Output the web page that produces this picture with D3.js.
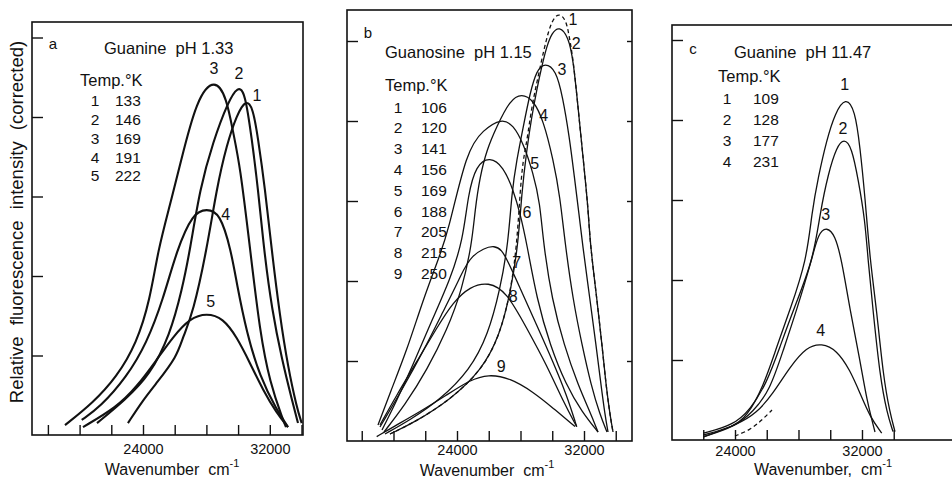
<!DOCTYPE html>
<html><head>
<meta charset="utf-8">
<title>Fluorescence spectra of guanine and guanosine</title>
<script src="https://d3js.org/d3.v7.min.js"></script>
<style>
  body { margin: 0; background: #fff; }
  svg text { font-family: "Liberation Sans", Arial, sans-serif; fill: #111; }
  .frame { fill: none; stroke: #111; stroke-width: 1.6; }
  .axis .domain { display: none; }
  .axis line { stroke: #111; stroke-width: 1.4; }
  .axis text { font-size: 14.5px; font-family: "Liberation Sans", Arial, sans-serif; fill: #111; }
  .curve { fill: none; stroke: #111; }
</style>
</head>
<body>
<svg id="chart" width="952" height="480"></svg>

<script>
// 1. Data
// x = wavenumber (cm-1), y = relative intensity (one tick = 20)
const xTicks = [18000, 20000, 22000, 24000, 26000, 28000, 30000, 32000, 34000];
const xTickLabels = [24000, 32000];
const yTicks = [20, 40, 60, 80, 100];

// a. Guanine pH 1.33
const tempsA = [133, 146, 169, 191, 222];
const a1 = [[23050,3.0],[24000,8.8],[24864,13.1],[26126,19.6],[26524,24.7],[27155,30.7],[28019,46.5],[28650,62.1],[29281,73.0],[29912,80.5],[30498,84.5],[30940,82.3],[31255,74.7],[31697,62.1],[32120,46.5],[32643,29.7],[33148,17.1],[33697,7.0],[34012,3.0]];
const a2 = [[21098,3.0],[22864,8.8],[24442,15.1],[25703,25.2],[26461,36.5],[26965,46.5],[27596,62.1],[28416,73.7],[29363,83.8],[29994,87.8],[30435,86.3],[30858,74.7],[31255,62.1],[31634,46.5],[32139,31.4],[32770,18.9],[33400,8.8],[33779,3.0]];
const a3 = [[19079,2.5],[20845,8.1],[22341,14.6],[23603,23.1],[24442,34.0],[24946,46.5],[25703,57.9],[26334,67.9],[27388,84.8],[28542,89.8],[29281,84.8],[29678,76.2],[30120,67.9],[30751,47.0],[31382,25.7],[32012,13.1],[32832,3.8],[33022,2.0]];
const a4 = [[20133,3.8],[21287,7.0],[22972,14.6],[24233,23.1],[25262,34.0],[26126,46.5],[27155,55.9],[28019,56.9],[28858,55.9],[29552,46.5],[29912,38.2],[30542,25.7],[31382,14.6],[32435,6.3],[33148,2.0]];
const a5 = [[20215,2.0],[22341,7.0],[23603,12.1],[24864,18.9],[25893,24.7],[26965,29.4],[28019,30.7],[29047,29.4],[29912,24.7],[30751,18.1],[31571,11.3],[32435,5.5],[33148,2.0]];

// b. Guanosine pH 1.15
const tempsB = [106, 120, 141, 156, 169, 188, 205, 215, 250];
const b1 = [[19779,1.75],[21354,4.75],[23559,10.25],[25575,17.75],[26709,26.5],[27402,37.75],[27780,49.5],[27969,62],[28158,70.25],[28391,74.5],[28706,83.6],[29103,91],[29607,100.25],[29985,105.25],[30426,107.1],[30867,105.25],[31056,101.5],[31327,95.25],[31642,82.75],[31957,70.25],[32272,57.75],[32379,49.5],[32820,35.25],[33135,24],[33387,14],[33639,6.5],[33828,2.25]];
const b2 = [[19779,1.75],[21354,4.75],[23559,10.25],[25575,17.75],[26709,26.5],[27402,37.75],[27862,49.5],[28076,62],[28391,72.75],[28706,81.1],[29021,87.75],[29336,93.6],[29651,98.6],[29966,102],[30445,103.75],[31012,101.1],[31327,95.25],[31642,82.75],[31957,70.25],[32272,57.75],[32379,49.5],[32820,35.25],[33135,24],[33387,14],[33639,6.5],[33828,2.25]];
const b3 = [[19464,1.75],[21039,5.25],[22929,10.25],[24819,17.75],[25953,26.5],[26709,37.75],[27232,49.5],[27446,62],[27761,70.25],[28177,78.6],[28599,87],[29021,92.75],[29544,94.6],[30237,92.75],[30654,86.1],[31077,76.1],[31392,66.1],[31707,56.1],[31896,49.5],[32379,35.25],[32757,24],[33072,14],[33324,6.5],[33513,2.25]];
const b4 = [[19401,2.25],[20724,9],[22110,17.75],[23370,27.75],[24315,37.75],[24945,49.5],[25134,57.75],[25449,66.1],[25871,72.75],[26501,78.6],[27339,85.25],[28076,86.9],[28807,85.25],[29437,80.25],[30067,70.25],[30489,61.1],[30804,49.5],[31308,35.25],[31875,24],[32442,14],[33009,6.5],[33450,2.25]];
const b5 = [[19023,4],[19779,12],[20850,22.75],[21858,35.25],[22803,45.25],[23433,52],[24611,72.75],[25638,77.75],[26816,80.7],[27547,79],[28177,74.4],[28807,66.9],[29229,59.5],[29437,49.5],[29985,35.25],[30741,24],[31623,14],[32379,7.25],[32883,2.25]];
const b6 = [[19275,2.75],[20220,10.25],[21228,19],[22425,30.25],[23559,40.25],[24378,50.25],[24693,61.5],[25197,69],[26079,71.1],[26917,68.6],[27547,62.75],[27969,57],[28391,49.5],[29040,35.25],[29859,24],[30867,14],[31875,7.25],[32883,2.25]];
const b7 = [[19149,3.5],[20598,13.25],[21858,22.3],[23118,32.3],[24189,40.75],[24819,46.5],[26501,49.8],[27131,45.7],[27969,38.25],[29021,29.0],[30048,19.8],[30911,11.5],[31541,3.6]];
const b8 = [[19149,4.0],[20201,11.5],[21461,19.8],[22721,28.25],[23767,34.8],[24819,38.6],[25972,39.8],[27131,37.3],[28391,28.2],[29651,19.0],[30697,9.8],[31541,3.6]];
const b9 = [[18941,1.1],[19968,3.5],[21669,7.3],[23351,11.5],[24819,15.25],[25972,16.7],[27339,15.75],[28788,12.3],[30048,8.25],[31434,3.6]];

// c. Guanine pH 11.47
const tempsC = [109, 128, 177, 231];
const c1 = [[22003,1.25],[23893,3.3],[24737,5.8],[25783,13.3],[26627,23.3],[27465,32.5],[28517,45],[28832,56.7],[29248,65.8],[29777,75],[30300,81.7],[30974,85.8],[31560,82.5],[31875,73.3],[32190,60.8],[32505,45],[32927,32.5],[33343,15.8],[33765,6.7],[34080,2.1]];
const c2 = [[22003,1.7],[23893,3.75],[24945,7.5],[25997,14.2],[26835,23.3],[27673,32.5],[28933,45],[29355,56.7],[29878,66.7],[30407,73.3],[30867,75.4],[31352,73.3],[31768,65],[32190,55],[32379,45],[32694,32.5],[33135,15.8],[33576,6.75],[33954,2.1]];
const c3 = [[22003,0.8],[24000,3.3],[25153,7.1],[26205,12.5],[27043,22.5],[27887,32.5],[28832,45],[29248,51.7],[29777,53.3],[30300,51.25],[30722,45],[31245,32.5],[31875,20],[32297,10],[32820,2]];
const c4 = [[22003,0.8],[24107,3.75],[25367,6.7],[26413,11.7],[27465,18.3],[28517,23.3],[29462,24.2],[30407,22.5],[31245,17.5],[31875,11.7],[32505,5.8],[33242,1.7]];
const cDashed = [[24000,1],[24945,2.5],[25701,5],[26331,7.5]];


// 2. Layout for each panel (boxes in px, label offsets from each peak)
let panels = [
  { letter: "a", title: "Guanine  pH 1.33", temps: tempsA, series: [a1, a2, a3, a4, a5],
    box: { left: 32, right: 303, top: 22, bottom: 435 }, xDomain: [16997, 34095], yMax: 103.9,
    stroke: 2.1, dashed: [], extra: [], rightTicks: false, xLabel: "Wavenumber  cm", tickPad: 9, labelX: 172, labelY: 469,
    letterPos: [53, 43], titlePos: [104, 48], tempPos: [80, 80], rowNum: 95, rowVal: 115, rowY: 100.7, rowStep: 18.8,
    peakOffsets: [[11,-4],[1,-12],[-1,-10],[19,6],[4,-11]] },
  { letter: "b", title: "Guanosine  pH 1.15", temps: tempsB, series: [b1, b2, b3, b4, b5, b6, b7, b8, b9],
    box: { left: 347, right: 632, top: 10, bottom: 441 }, xDomain: [17071, 35024], yMax: 107.75,
    stroke: 1.3, dashed: [0], extra: [], rightTicks: true, xLabel: "Wavenumber  cm", tickPad: 4, labelX: 487, labelY: 470,
    letterPos: [368, 32], titlePos: [385, 52], tempPos: [385, 85], rowNum: 398, rowVal: 421, rowY: 107, rowStep: 20.8,
    peakOffsets: [[14,7],[17,17],[17,7],[22,22],[33,45],[37,56],[20,21],[25,15],[13,-8]] },
  { letter: "c", title: "Guanine  pH 11.47", temps: tempsC, series: [c1, c2, c3, c4],
    box: { left: 672, right: 990, top: 25, bottom: 440 }, xDomain: [20031, 40065], yMax: 103.75,
    stroke: 1.3, dashed: [], extra: [cDashed], rightTicks: false, xLabel: "Wavenumber,  cm", tickPad: 6, labelX: 823, labelY: 469,
    letterPos: [693, 48], titlePos: [734, 52], tempPos: [718, 76], rowNum: 727, rowVal: 753, rowY: 98.3, rowStep: 21,
    peakOffsets: [[-1,-12],[-1,-10],[-1,-12],[-1,-13]] }
];

let svg = d3.select("svg#chart");

// 3. Shared y-axis title
svg.append("text")
  .attr("transform", "translate(16,222) rotate(-90)")
  .attr("text-anchor", "middle")
  .attr("dominant-baseline", "central")
  .style("font-size", "18.5px")
  .style("word-spacing", "6px")
  .text("Relative fluorescence intensity (corrected)");

// 4. Draw each panel
panels.forEach(function(p) {
  let b = p.box;
  let xScale = d3.scaleLinear().domain(p.xDomain).range([b.left, b.right]);
  let yScale = d3.scaleLinear().domain([0, p.yMax]).range([b.bottom, b.top]);

  let g = svg.append("g").attr("class", "panel");

  // axes with inward ticks
  let ticks = xTicks.filter(d => d > p.xDomain[0] && d < p.xDomain[1]);
  let xAxis = d3.axisBottom(xScale).tickValues(ticks)
    .tickSizeInner(-10).tickSizeOuter(0).tickPadding(p.tickPad)
    .tickFormat(d => xTickLabels.includes(d) ? d : "");
  g.append("g").attr("class", "x axis")
    .attr("transform", "translate(0," + b.bottom + ")")
    .call(xAxis);

  let yAxis = d3.axisLeft(yScale).tickValues(yTicks)
    .tickSizeInner(-11).tickSizeOuter(0).tickFormat("");
  g.append("g").attr("class", "y axis")
    .attr("transform", "translate(" + b.left + ",0)")
    .call(yAxis);

  if (p.rightTicks) {
    let yAxisR = d3.axisRight(yScale).tickValues(yTicks)
      .tickSizeInner(-5).tickSizeOuter(0).tickFormat("");
    g.append("g").attr("class", "y axis")
      .attr("transform", "translate(" + b.right + ",0)")
      .call(yAxisR);
  }

  g.append("rect").attr("class", "frame")
    .attr("x", b.left).attr("y", b.top)
    .attr("width", b.right - b.left).attr("height", b.bottom - b.top);

  // curves (smoothed like the hand-drawn originals)
  let line = d3.line()
    .x(d => xScale(d[0]))
    .y(d => yScale(d[1]))
    .curve(d3.curveBasis);

  p.series.forEach(function(s, i) {
    g.append("path").attr("class", "curve")
      .attr("d", line(s))
      .style("stroke-width", p.stroke)
      .style("stroke-dasharray", p.dashed.includes(i) ? "4,3" : null);

    let peak = s.reduce((m, d) => d[1] > m[1] ? d : m, s[0]);
    g.append("text")
      .attr("x", xScale(peak[0]) + p.peakOffsets[i][0])
      .attr("y", yScale(peak[1]) + p.peakOffsets[i][1])
      .attr("text-anchor", "middle")
      .attr("dominant-baseline", "central")
      .style("font-size", "16px")
      .text(i + 1);
  });

  p.extra.forEach(function(s) {
    g.append("path").attr("class", "curve")
      .attr("d", line(s))
      .style("stroke-width", p.stroke)
      .style("stroke-dasharray", "4,3");
  });

  // panel letter, title and temperature table
  g.append("text").attr("x", p.letterPos[0]).attr("y", p.letterPos[1])
    .attr("text-anchor", "middle").attr("dominant-baseline", "central")
    .style("font-size", "15px").text(p.letter);

  g.append("text").attr("x", p.titlePos[0]).attr("y", p.titlePos[1])
    .attr("dominant-baseline", "central").style("white-space", "pre")
    .style("font-size", "16.5px").text(p.title);

  g.append("text").attr("x", p.tempPos[0]).attr("y", p.tempPos[1])
    .attr("dominant-baseline", "central")
    .style("font-size", "16.5px").text("Temp.°K");

  p.temps.forEach(function(t, i) {
    let y = p.rowY + i * p.rowStep;
    g.append("text").attr("x", p.rowNum).attr("y", y)
      .attr("text-anchor", "middle").attr("dominant-baseline", "central")
      .style("font-size", "15.5px").text(i + 1);
    g.append("text").attr("x", p.rowVal).attr("y", y)
      .attr("dominant-baseline", "central")
      .style("font-size", "15.5px").text(t);
  });

  // x-axis title with superscript
  let xt = g.append("text")
    .attr("x", p.labelX)
    .attr("y", p.labelY)
    .attr("text-anchor", "middle").attr("dominant-baseline", "central")
    .style("font-size", "16px").style("white-space", "pre");
  xt.append("tspan").text(p.xLabel);
  xt.append("tspan").attr("dy", -6).style("font-size", "11px").text("-1");
});
</script>
</body>
</html>
